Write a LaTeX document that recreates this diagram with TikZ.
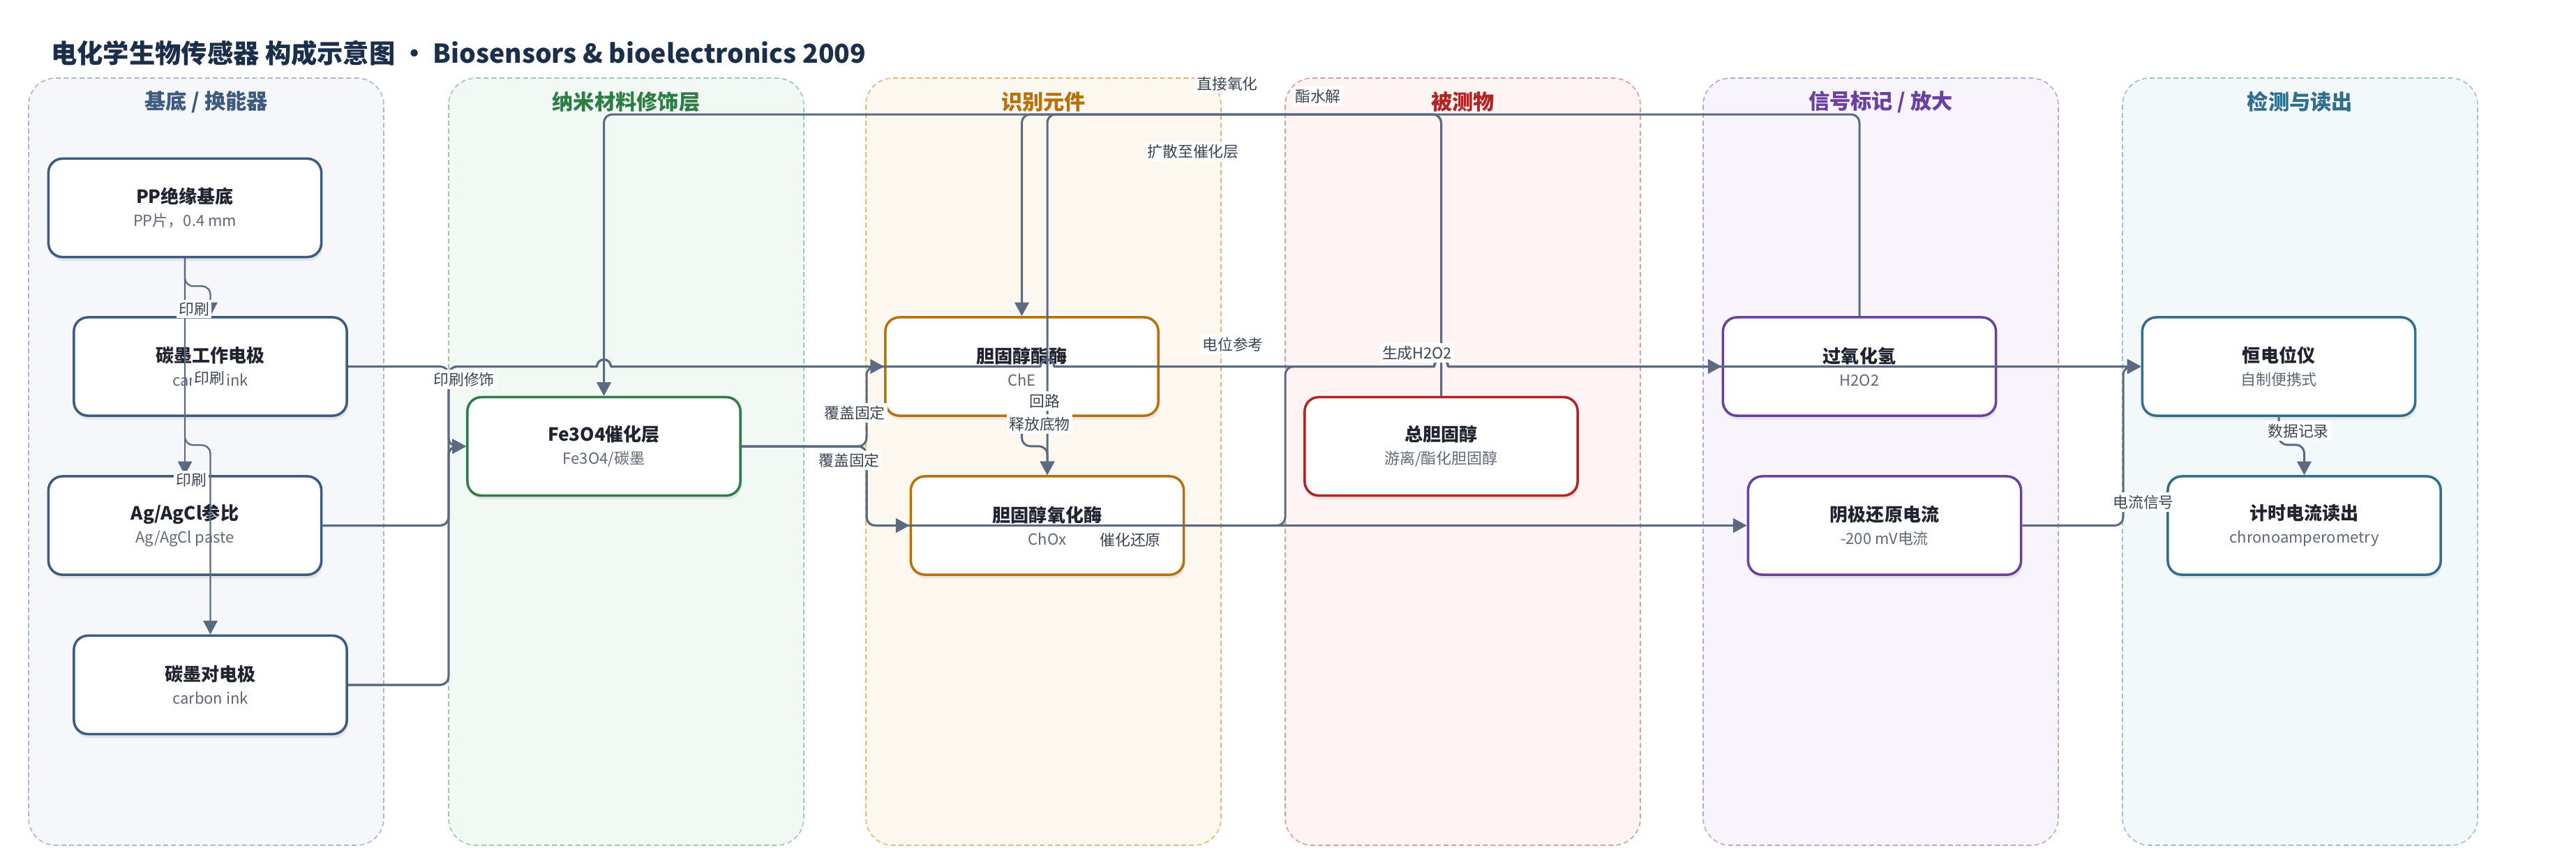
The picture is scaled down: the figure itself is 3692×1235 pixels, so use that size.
\documentclass[tikz,border=0pt]{standalone}
\usepackage{fontspec}
\setmainfont{Noto Sans CJK SC}
\usepackage{tikz}
\usetikzlibrary{arrows.meta}
\usetikzlibrary{shadows}
\definecolor{titleink}{HTML}{1B2F4B}
\definecolor{wire}{HTML}{5B6A80}
\definecolor{nodeink}{HTML}{1F2430}
\definecolor{subink}{HTML}{5F6877}
\definecolor{labink}{HTML}{3A4454}
\definecolor{jdfill}{HTML}{F5F7FB}
\definecolor{jdline}{HTML}{A9B6CC}
\definecolor{jdtext}{HTML}{3D5A80}
\definecolor{nmfill}{HTML}{F2F9F4}
\definecolor{nmline}{HTML}{9CC9A8}
\definecolor{nmtext}{HTML}{2E7D46}
\definecolor{sbfill}{HTML}{FDF8EF}
\definecolor{sbline}{HTML}{E3B877}
\definecolor{sbtext}{HTML}{B8700A}
\definecolor{bcfill}{HTML}{FDF4F3}
\definecolor{bcline}{HTML}{E09A9A}
\definecolor{bctext}{HTML}{B22323}
\definecolor{xhfill}{HTML}{F7F4FC}
\definecolor{xhline}{HTML}{B9A3DC}
\definecolor{xhtext}{HTML}{6A3FA0}
\definecolor{jcfill}{HTML}{F3F8FA}
\definecolor{jcline}{HTML}{9DBFCC}
\definecolor{jctext}{HTML}{2F6F8C}
\newcommand{\nodesub}[1]{\\{\mdseries\color{subink}\fontsize{6.25pt}{9.4pt}\selectfont #1}}
\tikzstyle{every node}=[font=\fontsize{6.2pt}{7.5pt}\selectfont]
\tikzstyle{lane}=[rounded corners=11pt,line width=0.45pt,dash pattern=on 2pt off 1.2pt]
\tikzstyle{lanetitle}=[font=\fontsize{8.6pt}{10pt}\selectfont\bfseries]
\tikzstyle{blk}=[draw,fill=white,rounded corners=5.7pt,line width=1pt,minimum width=3.91cm,minimum height=1.41cm,align=center,drop shadow={shadow xshift=0.5pt,shadow yshift=-1.6pt,opacity=0.15},font=\fontsize{7.4pt}{9.4pt}\selectfont\bfseries,text=nodeink]
\tikzstyle{conn}=[draw=wire,line width=0.85pt,rounded corners=3.4pt,->]
\tikzstyle{thinconn}=[conn,line width=0.65pt]
\tikzstyle{elabel}=[fill=white,inner sep=1pt,text=labink]

\begin{document}
\begin{tikzpicture}[line join=round,>={Triangle[length=5.6pt,width=5.8pt]},x=0.01cm,y=-0.01cm]
\useasboundingbox (0,0) rectangle (3692,1235);
\fill[white] (0,0) rectangle (3692,1235);

\node[anchor=west,text=titleink,font=\fontsize{10.6pt}{12pt}\selectfont\bfseries] (title) at (61,76) {电化学生物传感器 构成示意图 · Biosensors \& bioelectronics 2009};

\draw[lane,draw=jdline,fill=jdfill] (41,112) rectangle (550,1212);
\draw[lane,draw=nmline,fill=nmfill] (643,112) rectangle (1152,1212);
\draw[lane,draw=sbline,fill=sbfill] (1241,112) rectangle (1750,1212);
\draw[lane,draw=bcline,fill=bcfill] (1842,112) rectangle (2351,1212);
\draw[lane,draw=xhline,fill=xhfill] (2441,112) rectangle (2950,1212);
\draw[lane,draw=jcline,fill=jcfill] (3042,112) rectangle (3551,1212);
\node[lanetitle,text=jdtext] (lt1) at (295.5,146) {基底 / 换能器};
\node[lanetitle,text=nmtext] (lt2) at (897.5,146) {纳米材料修饰层};
\node[lanetitle,text=sbtext] (lt3) at (1495.5,146) {识别元件};
\node[lanetitle,text=bctext] (lt4) at (2096.5,146) {被测物};
\node[lanetitle,text=xhtext] (lt5) at (2695.5,146) {信号标记 / 放大};
\node[lanetitle,text=jctext] (lt6) at (3296.5,146) {检测与读出};

\node[blk,draw=jdtext] (pp) at (265,298) {PP绝缘基底\nodesub{PP片，0.4 mm}};
\node[blk,draw=jdtext] (we) at (301.5,525.5) {碳墨工作电极\nodesub{carbon ink}};
\node[blk,draw=jdtext] (ag) at (265,753.5) {Ag/AgCl参比\nodesub{Ag/AgCl paste}};
\node[blk,draw=jdtext] (ce) at (301.5,982) {碳墨对电极\nodesub{carbon ink}};
\node[blk,draw=nmtext] (fe) at (865.5,640) {Fe3O4催化层\nodesub{Fe3O4/碳墨}};
\node[blk,draw=sbtext] (che) at (1464.5,525.5) {胆固醇酯酶\nodesub{ChE}};
\node[blk,draw=sbtext] (chox) at (1501,753.5) {胆固醇氧化酶\nodesub{ChOx}};
\node[blk,draw=bctext] (tc) at (2065.5,640) {总胆固醇\nodesub{游离/酯化胆固醇}};
\node[blk,draw=xhtext] (hp) at (2665,525.5) {过氧化氢\nodesub{H2O2}};
\node[blk,draw=xhtext] (cath) at (2701,753.5) {阴极还原电流\nodesub{-200 mV电流}};
\node[blk,draw=jctext] (pot) at (3266,525.5) {恒电位仪\nodesub{自制便携式}};
\node[blk,draw=jctext] (chrono) at (3302.5,753.5) {计时电流读出\nodesub{chronoamperometry}};

\coordinate (tl) at (0,164);
\coordinate (jl) at (643,0);
\coordinate (jr) at (1242,0);
\coordinate (jh) at (1842,0);
\coordinate (jp) at (3043,0);

\draw[thinconn] (pp.south) -- ++(0,40) -| (we.north);
\draw[thinconn] (pp.south) -- (ag.north);
\draw[thinconn] (pp.south) -- ++(0,268) -| (ce.north);
\draw[conn] (we.east) -- (jl |- we.east) -- (jl |- fe.west) -- (fe.west);
\draw[conn] (ag.east) -- (jl |- ag.east) -- (jl |- fe.west) -- (fe.west);
\draw[conn] (ce.east) -- (jl |- ce.east) -- (jl |- fe.west) -- (fe.west);
\draw[conn] (ag.east) -- (jl |- ag.east) -- (jl |- pot.west) -- (700,525.5) [sharp corners] -- (855.5,525.5) arc[start angle=180,end angle=360,radius=10] -- (1491,525.5) arc[start angle=180,end angle=360,radius=10] -- (2055.5,525.5) arc[start angle=180,end angle=360,radius=10] -- (pot.west);
\draw[conn] (ce.east) -- (jl |- ce.east) -- (jl |- pot.west) -- (700,525.5) [sharp corners] -- (855.5,525.5) arc[start angle=180,end angle=360,radius=10] -- (1491,525.5) arc[start angle=180,end angle=360,radius=10] -- (2055.5,525.5) arc[start angle=180,end angle=360,radius=10] -- (pot.west);
\draw[conn] (fe.east) -- (jr |- fe.east) -- (jr |- che.west) -- (che.west);
\draw[conn] (fe.east) -- (jr |- fe.east) -- (jr |- chox.west) -- (chox.west);
\draw[conn] (fe.east) -- (jr |- fe.east) -- (jr |- cath.west) -- (cath.west);
\draw[conn] (che.south) -- ++(0,42) -| (chox.north);
\draw[conn] (tc.north) -- (tc.north |- tl) -| (che.north);
\draw[conn] (tc.north) -- (tc.north |- tl) -| (chox.north);
\draw[conn] (hp.north) -- (hp.north |- tl) -| (fe.north);
\draw[conn] (chox.east) -- (jh |- chox.east) -- (jh |- hp.west) -- (1900,525.5) [sharp corners] -- (2055.5,525.5) arc[start angle=180,end angle=360,radius=10] -- (hp.west);
\draw[conn] (cath.east) -- (jp |- cath.east) -- (jp |- pot.west) -- (pot.west);
\draw[conn] (pot.south) -- ++(0,40) -| (chrono.north);

\node[elabel] (l1) at (278,443) {印刷};
\node[elabel] (l2) at (274,688) {印刷};
\node[elabel] (l3) at (300,542) {印刷};
\node[elabel] (l4) at (665,544) {印刷修饰};
\node[elabel] (l5) at (1225,592) {覆盖固定};
\node[elabel] (l6) at (1217,660) {覆盖固定};
\node[elabel] (l7) at (1490,608) {释放底物};
\node[elabel] (l8) at (1497,575) {回路};
\node[elabel] (l9) at (1767,494) {电位参考};
\node[elabel] (l10) at (2031,506) {生成H2O2};
\node[elabel] (l11) at (1759,120) {直接氧化};
\node[elabel] (l12) at (1889,138) {酯水解};
\node[elabel] (l13) at (1710,217) {扩散至催化层};
\node[elabel] (l14) at (1620,774) {催化还原};
\node[elabel] (l15) at (3072,720) {电流信号};
\node[elabel] (l16) at (3294,618) {数据记录};
\end{tikzpicture}
\end{document}
